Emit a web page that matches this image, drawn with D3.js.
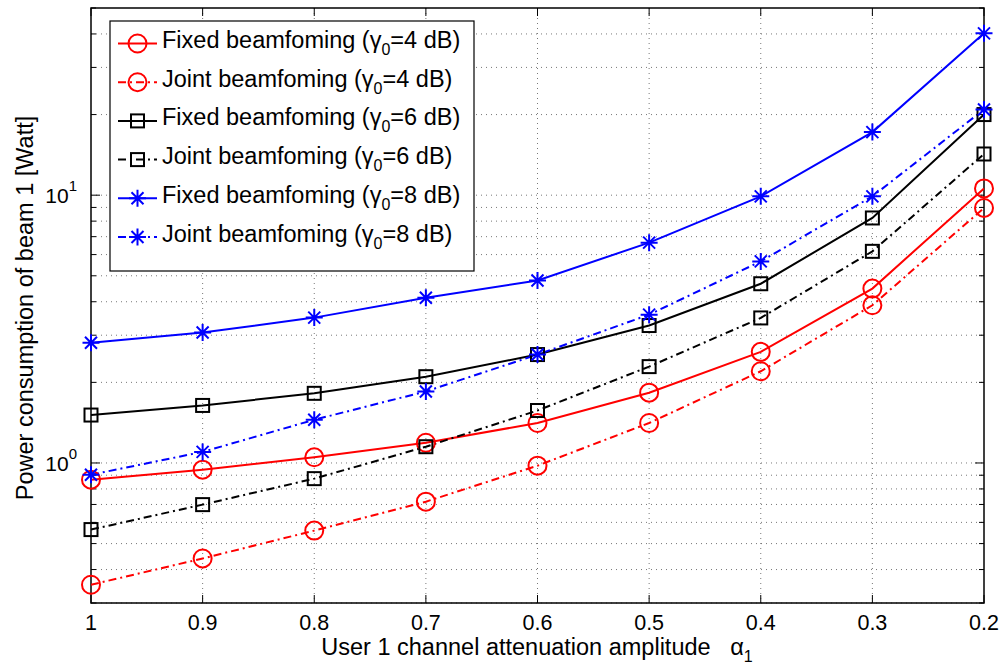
<!DOCTYPE html>
<html>
<head>
<meta charset="utf-8">
<script src="https://cdn.jsdelivr.net/npm/d3@7"></script>
<style>
  body { margin: 0; background: #fff; }
  text { font-family: "Liberation Sans", Arial, sans-serif; fill: #000; }
</style>
</head>
<body>
<svg id="chart" width="1005" height="668"></svg>
<script>
// x values (alpha_1), axis is reversed
const alphas = [1, 0.9, 0.8, 0.7, 0.6, 0.5, 0.4, 0.3, 0.2];
const xTicks = [1, 0.9, 0.8, 0.7, 0.6, 0.5, 0.4, 0.3, 0.2];
const xTickLabels = ["1", "0.9", "0.8", "0.7", "0.6", "0.5", "0.4", "0.3", "0.2"];

// power consumption of beam 1 [Watt]
const fixed4 = [0.866, 0.944, 1.05, 1.19, 1.41, 1.83, 2.60, 4.48, 10.6];
const joint4 = [0.351, 0.44, 0.559, 0.717, 0.977, 1.41, 2.20, 3.88, 8.96];
const fixed6 = [1.51, 1.64, 1.82, 2.10, 2.54, 3.26, 4.67, 8.22, 20.0];
const joint6 = [0.564, 0.699, 0.874, 1.15, 1.57, 2.29, 3.48, 6.17, 14.25];
const fixed8 = [2.81, 3.07, 3.49, 4.14, 4.80, 6.65, 9.9, 17.2, 40.2];
const joint8 = [0.904, 1.10, 1.45, 1.85, 2.54, 3.58, 5.66, 9.9, 20.9];

const seriesNames = [
  ["Fixed beamfoming (", "=4 dB)"],
  ["Joint beamfoming (", "=4 dB)"],
  ["Fixed beamfoming (", "=6 dB)"],
  ["Joint beamfoming (", "=6 dB)"],
  ["Fixed beamfoming (", "=8 dB)"],
  ["Joint beamfoming (", "=8 dB)"]
];

const series = [
  { name: seriesNames[0], values: fixed4, color: "#ff0000", dash: null, marker: "circle" },
  { name: seriesNames[1], values: joint4, color: "#ff0000", dash: "8,4,2,4", marker: "circle" },
  { name: seriesNames[2], values: fixed6, color: "#000000", dash: null, marker: "square" },
  { name: seriesNames[3], values: joint6, color: "#000000", dash: "8,4,2,4", marker: "square" },
  { name: seriesNames[4], values: fixed8, color: "#0000ff", dash: null, marker: "star" },
  { name: seriesNames[5], values: joint8, color: "#0000ff", dash: "8,4,2,4", marker: "star" }
];

const L = 91, R = 984, T = 8, B = 603;
const svg = d3.select("#chart");

const x = d3.scaleLinear().domain([1, 0.2]).range([L, R]);
const y = d3.scaleLog().domain([0.3, 50]).range([B, T]);

// minor log values within the domain
const logTicks = [];
for (let e = -1; e <= 1; e++) {
  for (let m = 1; m <= 9; m++) {
    const v = m * Math.pow(10, e);
    if (v >= 0.3 && v <= 50) logTicks.push(v);
  }
}
const majorY = [1, 10];

const grid = svg.append("g");
// horizontal gridlines
grid.selectAll(".hg").data(logTicks.filter(v => v < 50)).enter().append("line")
  .attr("x1", L).attr("x2", R)
  .attr("y1", d => y(d)).attr("y2", d => y(d))
  .attr("stroke", "#555").attr("stroke-width", 0.8)
  .attr("stroke-dasharray", "1,4");
// vertical gridlines
grid.selectAll(".vg").data(xTicks.slice(1, -1)).enter().append("line")
  .attr("x1", d => x(d)).attr("x2", d => x(d))
  .attr("y1", T).attr("y2", B)
  .attr("stroke", "#555").attr("stroke-width", 0.8)
  .attr("stroke-dasharray", "1,4");

// tick marks inside the box
const ticks = svg.append("g").attr("stroke", "#000").attr("stroke-width", 1);
xTicks.forEach(d => {
  ticks.append("line").attr("x1", x(d)).attr("x2", x(d)).attr("y1", B).attr("y2", B - 8);
  ticks.append("line").attr("x1", x(d)).attr("x2", x(d)).attr("y1", T).attr("y2", T + 8);
});
logTicks.forEach(d => {
  const len = majorY.includes(d) ? 9 : 5;
  ticks.append("line").attr("x1", L).attr("x2", L + len).attr("y1", y(d)).attr("y2", y(d));
  ticks.append("line").attr("x1", R).attr("x2", R - len).attr("y1", y(d)).attr("y2", y(d));
});

// axes box
svg.append("rect").attr("x", L).attr("y", T).attr("width", R - L).attr("height", B - T)
  .attr("fill", "none").attr("stroke", "#000").attr("stroke-width", 1.5);

// x tick labels
svg.append("g").selectAll("text").data(xTicks).enter().append("text")
  .attr("x", d => x(d)).attr("y", 630)
  .attr("text-anchor", "middle").attr("font-size", 21.5)
  .text((d, i) => xTickLabels[i]);

// y tick labels 10^0 and 10^1
majorY.forEach(d => {
  const t = svg.append("text").attr("x", 77).attr("y", y(d) + 8)
    .attr("text-anchor", "end").attr("font-size", 21);
  t.append("tspan").text("10");
  t.append("tspan").attr("font-size", 15).attr("dy", -12).text(Math.round(Math.log10(d)));
});

// axis titles
const xl = svg.append("text").attr("x", 537).attr("y", 655)
  .attr("text-anchor", "middle").attr("font-size", 23.5);
xl.append("tspan").text("User 1 channel attenuation amplitude\u00a0\u00a0\u00a0\u03b1");
xl.append("tspan").attr("font-size", 16).attr("dy", 7).text("1");

svg.append("text").attr("transform", "translate(33,308) rotate(-90)")
  .attr("text-anchor", "middle").attr("font-size", 23.5)
  .text("Power consumption of beam 1 [Watt]");

// markers
function drawMarker(g, type, cx, cy, color) {
  if (type === "circle") {
    g.append("circle").attr("cx", cx).attr("cy", cy).attr("r", 9)
      .attr("fill", "none").attr("stroke", color).attr("stroke-width", 2);
  } else if (type === "square") {
    g.append("rect").attr("x", cx - 6.5).attr("y", cy - 6.5).attr("width", 13).attr("height", 13)
      .attr("fill", "none").attr("stroke", color).attr("stroke-width", 2);
  } else {
    const r = 8.5;
    const d = r * Math.SQRT1_2;
    const p = `M${cx - r},${cy}L${cx + r},${cy}M${cx},${cy - r}L${cx},${cy + r}` +
      `M${cx - d},${cy - d}L${cx + d},${cy + d}M${cx - d},${cy + d}L${cx + d},${cy - d}`;
    g.append("path").attr("d", p).attr("stroke", color).attr("stroke-width", 2).attr("fill", "none");
  }
}

const line = d3.line().x((d, i) => x(alphas[i])).y(d => y(d));
const plot = svg.append("g");
series.forEach(s => {
  plot.append("path").datum(s.values).attr("d", line)
    .attr("fill", "none").attr("stroke", s.color).attr("stroke-width", 2)
    .attr("stroke-dasharray", s.dash);
});
series.forEach(s => {
  const g = plot.append("g");
  s.values.forEach((v, i) => drawMarker(g, s.marker, x(alphas[i]), y(v), s.color));
});

// legend
const lg = svg.append("g");
lg.append("rect").attr("x", 110).attr("y", 21).attr("width", 364).attr("height", 250)
  .attr("fill", "#fff").attr("stroke", "#000").attr("stroke-width", 1.2);
series.forEach((s, i) => {
  const cy = 43.5 + i * 38.7;
  lg.append("line").attr("x1", 118).attr("x2", 157).attr("y1", cy).attr("y2", cy)
    .attr("stroke", s.color).attr("stroke-width", 2).attr("stroke-dasharray", s.dash);
  drawMarker(lg, s.marker, 137.5, cy, s.color);
  const t = lg.append("text").attr("x", 162).attr("y", cy + 4.5).attr("font-size", 23.5);
  t.append("tspan").text(s.name[0] + "\u03b3");
  t.append("tspan").attr("font-size", 16).attr("dy", 7).text("0");
  t.append("tspan").attr("dy", -7).text(s.name[1]);
});
</script>
</body>
</html>
